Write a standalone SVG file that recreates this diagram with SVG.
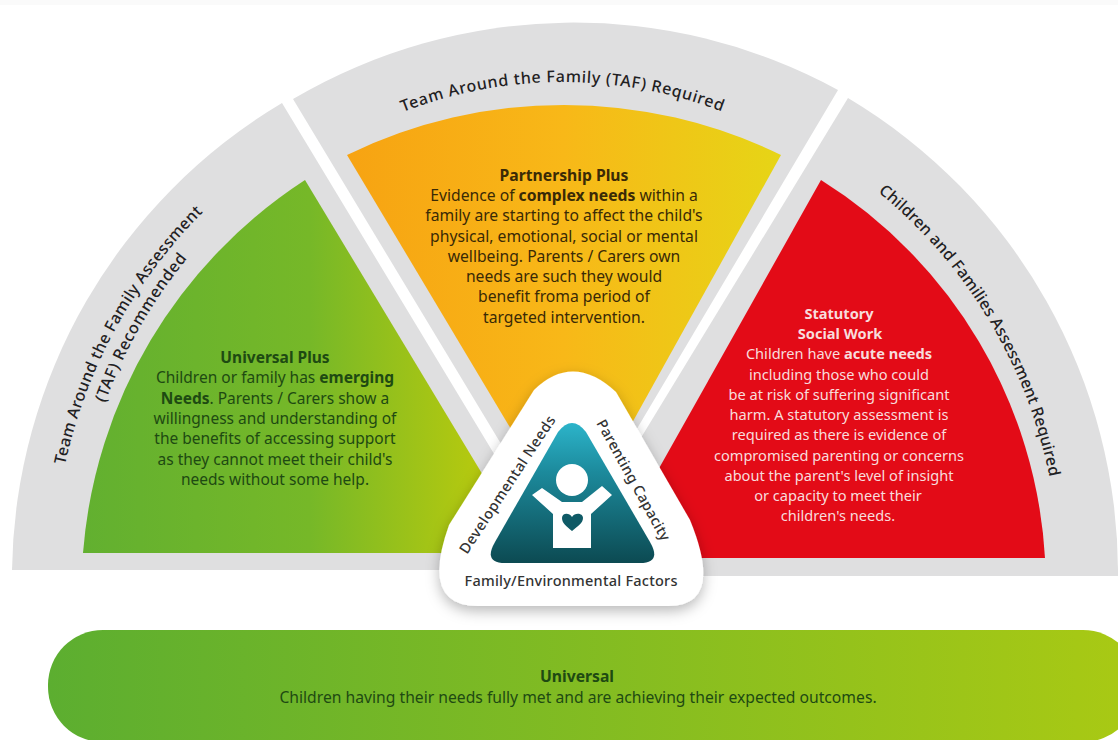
<svg xmlns="http://www.w3.org/2000/svg" width="1118" height="740" viewBox="0 0 1118 740">
<style>
text{font-family:"Noto Sans","Open Sans","Liberation Sans",sans-serif;font-size:14px;text-anchor:middle}
.b{font-weight:700}
.g{fill:#1e4a12;font-size:15.500px}
.o{fill:#3a2a06;font-size:15.700px}
.r{fill:#f8dcdc;font-size:14.600px}
.u{fill:#1e4a12;font-size:15.700px}
.lab{font-size:16px;font-weight:500;fill:#1f2123;text-anchor:start}
.tri{font-size:14.500px;font-weight:500;fill:#333}
.seg{fill:#dfdfe0}
</style>
<defs>
<linearGradient id="gGreen" gradientUnits="userSpaceOnUse" x1="83" y1="0" x2="495" y2="0"><stop offset="0" stop-color="#62b030"/><stop offset=".55" stop-color="#76b828"/><stop offset="1" stop-color="#bccb0c"/></linearGradient>
<linearGradient id="gOrange" gradientUnits="userSpaceOnUse" x1="347" y1="0" x2="781" y2="0"><stop offset="0" stop-color="#f7a312"/><stop offset=".5" stop-color="#f8b818"/><stop offset="1" stop-color="#e6d516"/></linearGradient>
<linearGradient id="gBar" gradientUnits="userSpaceOnUse" x1="48" y1="0" x2="1118" y2="0"><stop offset="0" stop-color="#5cae30"/><stop offset="1" stop-color="#a8c914"/></linearGradient>
<linearGradient id="gTeal" x1="0" y1="0" x2="0" y2="1"><stop offset="0" stop-color="#2cb4ca"/><stop offset=".35" stop-color="#1c8a9c"/><stop offset="1" stop-color="#0c4a52"/></linearGradient>
<filter id="sh" x="-20%" y="-20%" width="140%" height="140%"><feDropShadow dx="0" dy="5" stdDeviation="7" flood-color="#000" flood-opacity=".28"/></filter>
<path id="pTop" d="M403,112 A442,442 0 0 1 780,139"/>
<path id="pL1" d="M65,465 A509,509 0 0 1 270,156"/>
<path id="pL2" d="M105,403 A489,489 0 0 1 250,195"/>
<path id="pR" d="M878,192 A494,494 0 0 1 1058,541"/>
</defs>
<rect width="1118" height="740" fill="#fff"/>
<rect width="1118" height="5" fill="#fafafa"/>

<g id="universal-plus">
<path class="seg" d="M12,570 A553,553 0 0 1 282,103 L525,505 L525,570 Z"/>
<path fill="url(#gGreen)" d="M83,553 A490,490 0 0 1 305,180 L510,520 L510,553 Z"/>
<text class="lab"><textPath href="#pL1" textLength="292">Team Around the Family Assessment</textPath></text>
<text class="lab"><textPath href="#pL2" textLength="167">(TAF) Recommended</textPath></text>
<text class="g b" x="275" y="363">Universal Plus</text>
<text class="g" x="275" y="383">Children or family has <tspan class="b">emerging</tspan></text>
<text class="g" x="275" y="404"><tspan class="b">Needs</tspan>. Parents / Carers show a</text>
<text class="g" x="275" y="424">willingness and understanding of</text>
<text class="g" x="275" y="444">the benefits of accessing support</text>
<text class="g" x="275" y="465">as they cannot meet their child's</text>
<text class="g" x="275" y="485">needs without some help.</text>
</g>

<g id="partnership-plus">
<path class="seg" d="M293,99 A553,553 0 0 1 838,90 L565,550 Z"/>
<path fill="url(#gOrange)" d="M347,155 A495,495 0 0 1 781,155 L572,531 Z"/>
<text class="lab"><textPath href="#pTop" textLength="326">Team Around the Family (TAF) Required</textPath></text>
<text class="o b" x="564" y="181">Partnership Plus</text>
<text class="o" x="564" y="201">Evidence of <tspan class="b">complex needs</tspan> within a</text>
<text class="o" x="564" y="221">family are starting to affect the child's</text>
<text class="o" x="564" y="242">physical, emotional, social or mental</text>
<text class="o" x="564" y="262">wellbeing. Parents / Carers own</text>
<text class="o" x="564" y="282">needs are such they would</text>
<text class="o" x="564" y="302">benefit froma period of</text>
<text class="o" x="564" y="323">targeted intervention.</text>
</g>

<g id="statutory">
<path class="seg" d="M848,98 A553,553 0 0 1 1118,576 L600,576 L600,505 Z"/>
<path fill="#e30b17" d="M821,180 A478,478 0 0 1 1045,558 L630,558 L630,520 Z"/>
<text class="lab"><textPath href="#pR" textLength="339">Children and Families Assessment Required</textPath></text>
<text class="r b" x="839" y="319">Statutory</text>
<text class="r b" x="840" y="339">Social Work</text>
<text class="r" x="839" y="359">Children have <tspan class="b">acute needs</tspan></text>
<text class="r" x="839" y="380">including those who could</text>
<text class="r" x="839" y="400">be at risk of suffering significant</text>
<text class="r" x="839" y="420">harm. A statutory assessment is</text>
<text class="r" x="839" y="440">required as there is evidence of</text>
<text class="r" x="839" y="461">compromised parenting or concerns</text>
<text class="r" x="839" y="481">about the parent's level of insight</text>
<text class="r" x="838" y="501">or capacity to meet their</text>
<text class="r" x="838" y="521">children's needs.</text>
</g>

<g id="centre-triangle">
<path fill="#fff" filter="url(#sh)" d="M534,390 Q573,352 616,392 L690,520 Q725,606 668,606 L478,606 Q420,606 449,525 Z"/>
<path fill="url(#gTeal)" d="M558,432 Q572,414 586,432 L650,542 Q662,563 640,563 L505,563 Q483,563 495,542 Z"/>
<circle cx="572" cy="480" r="16" fill="#fff"/>
<path fill="#fff" d="M532,495 L542,488 L562,502 L582,502 L602,486 L612,495 L591,514 L591,548 L553,548 L553,514 Z"/>
<path fill="#0f5a66" d="M572,531 C566,526 562,523 562,518 C562,513 569,512 572,517 C575,512 583,513 583,518 C583,523 578,526 572,531 Z"/>
<text class="tri" transform="translate(511.500,487.500) rotate(-56.600)" textLength="162">Developmental Needs</text>
<text class="tri" transform="translate(629,482.500) rotate(61)" textLength="136">Parenting Capacity</text>
<text class="tri" x="571" y="586" textLength="213">Family/Environmental Factors</text>
</g>

<g id="universal">
<rect x="48" y="630" width="1090" height="112" rx="55" fill="url(#gBar)"/>
<text class="u b" x="577" y="682">Universal</text>
<text class="u" x="578" y="703">Children having their needs fully met and are achieving their expected outcomes.</text>
</g>
</svg>
